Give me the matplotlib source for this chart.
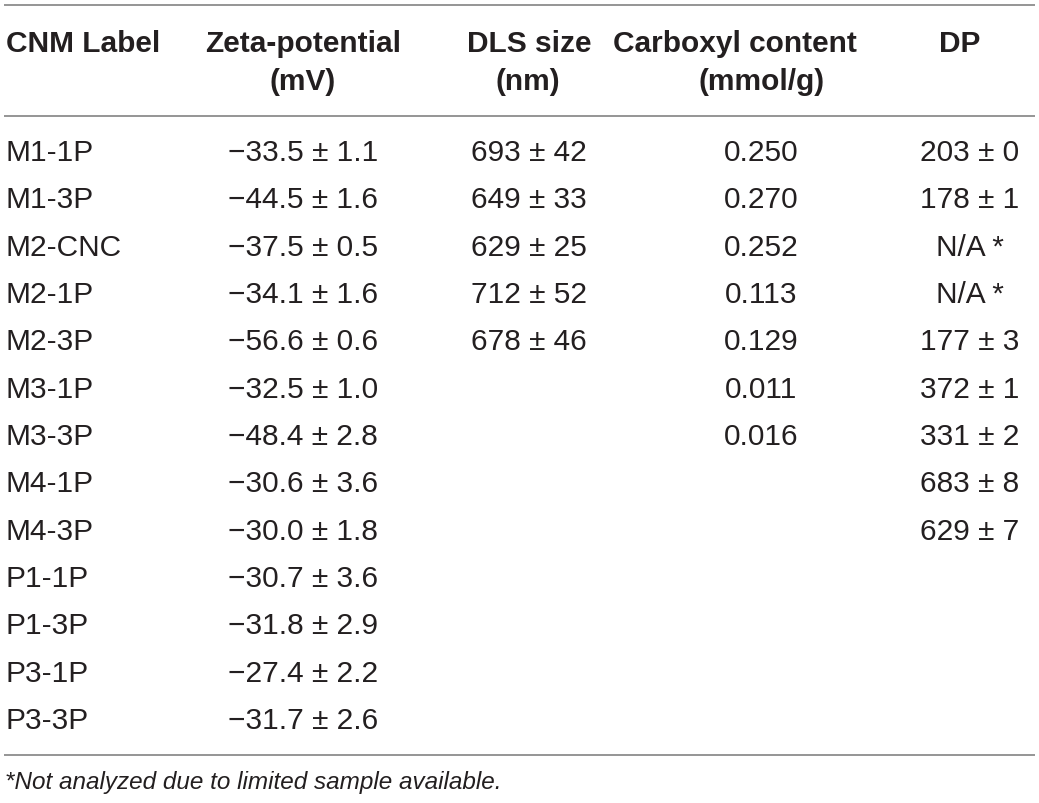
import matplotlib.pyplot as plt

# ----------------------------------------------------------------------
# Table data
# ----------------------------------------------------------------------
labels = ["M1-1P", "M1-3P", "M2-CNC", "M2-1P", "M2-3P", "M3-1P", "M3-3P",
          "M4-1P", "M4-3P", "P1-1P", "P1-3P", "P3-1P", "P3-3P"]
zeta_mean = [-33.5, -44.5, -37.5, -34.1, -56.6, -32.5, -48.4,
             -30.6, -30.0, -30.7, -31.8, -27.4, -31.7]
zeta_sd = [1.1, 1.6, 0.5, 1.6, 0.6, 1.0, 2.8, 3.6, 1.8, 3.6, 2.9, 2.2, 2.6]
dls_mean = [693, 649, 629, 712, 678]
dls_sd = [42, 33, 25, 52, 46]
carboxyl = [0.250, 0.270, 0.252, 0.113, 0.129, 0.011, 0.016]
dp_mean = [203, 178, None, None, 177, 372, 331, 683, 629]
dp_sd = [0, 1, None, None, 3, 1, 2, 8, 7]

headers = [("CNM Label", ""), ("Zeta-potential", "(mV)"), ("DLS size", "(nm)"),
           ("Carboxyl content", "(mmol/g)"), ("DP", "")]
footnote = "*Not analyzed due to limited sample available."

# ----------------------------------------------------------------------
# Layout (pixel coordinates)
# ----------------------------------------------------------------------
W, H = 1039, 804
fig = plt.figure(figsize=(W / 100, H / 100), dpi=100)
ax = fig.add_axes([0, 0, 1, 1])
ax.set_xlim(0, W)
ax.set_ylim(H, 0)
ax.axis("off")

FONT = "Liberation Sans"
TXT = "#231f20"
FS = 21.5
LINE = "#8c8c8c"

for y in (6, 117, 756):
    ax.plot([4, 1035], [y, y], color=LINE, lw=1.3, solid_capstyle="butt")

# header
head_x = [(6, "left", 6, "left"), (303, "center", 303, "center"),
          (529, "center", 528, "center"), (735, "center", 762, "center"),
          (960, "center", 960, "center")]
for (l1, l2), (x1, ha1, x2, ha2) in zip(headers, head_x):
    ax.text(x1, 44, l1, ha=ha1, va="center", fontsize=FS, fontweight="bold",
            family=FONT, color=TXT)
    if l2:
        ax.text(x2, 82, l2, ha=ha2, va="center", fontsize=FS,
                fontweight="bold", family=FONT, color=TXT)

# body
y0, dy = 153, 47.33
for i, lab in enumerate(labels):
    y = y0 + i * dy
    ax.text(6, y, lab, ha="left", va="center", fontsize=FS, family=FONT,
            color=TXT)
    ax.text(303, y, f"\u2212{abs(zeta_mean[i]):.1f} \u00b1 {zeta_sd[i]:.1f}",
            ha="center", va="center", fontsize=FS, family=FONT, color=TXT)
    if i < len(dls_mean):
        ax.text(529, y, f"{dls_mean[i]} \u00b1 {dls_sd[i]}", ha="center",
                va="center", fontsize=FS, family=FONT, color=TXT)
    if i < len(carboxyl):
        ax.text(761, y, f"{carboxyl[i]:.3f}", ha="center", va="center",
                fontsize=FS, family=FONT, color=TXT)
    if i < len(dp_mean):
        s = "N/A *" if dp_mean[i] is None else f"{dp_mean[i]} \u00b1 {dp_sd[i]}"
        ax.text(970, y, s, ha="center", va="center", fontsize=FS,
                family=FONT, color=TXT)

ax.text(5, 783, footnote, ha="left", va="center", fontsize=17.5,
        style="italic", family=FONT, color=TXT)

fig.savefig("out.png", dpi=100)
